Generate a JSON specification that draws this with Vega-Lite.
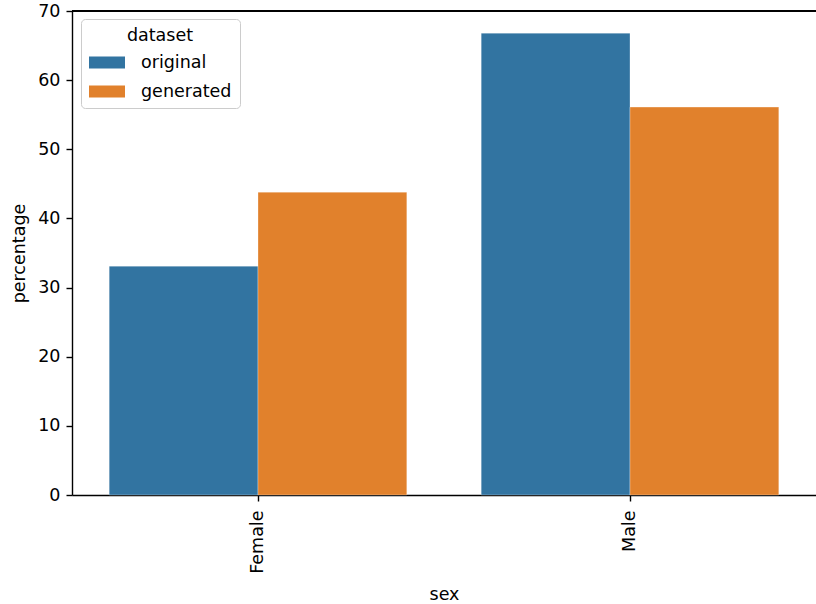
{
  "$schema": "https://vega.github.io/schema/vega-lite/v6.json",
  "width": 744,
  "height": 484,
  "autosize": {"type": "none"},
  "padding": {"left": 72, "top": 11, "right": 0, "bottom": 109},
  "background": "white",
  "config": {
    "view": {"stroke": null},
    "font": "DejaVu Sans",
    "axis": {
      "labelFont": "DejaVu Sans",
      "titleFont": "DejaVu Sans",
      "labelFontSize": 17.5,
      "titleFontSize": 17.5,
      "titleFontWeight": "normal",
      "labelColor": "#000",
      "titleColor": "#000",
      "domainColor": "#000",
      "domainWidth": 1.4,
      "tickColor": "#000",
      "tickWidth": 1.4,
      "tickSize": 6,
      "grid": false
    }
  },
  "data": {
    "values": [
      {"sex": "Female", "dataset": "original", "percentage": 33.1},
      {"sex": "Female", "dataset": "generated", "percentage": 43.8},
      {"sex": "Male", "dataset": "original", "percentage": 66.8},
      {"sex": "Male", "dataset": "generated", "percentage": 56.1}
    ]
  },
  "layer": [
    {
      "mark": {"type": "bar", "stroke": "white", "strokeWidth": 0.5, "strokeOpacity": 0.6},
      "encoding": {
        "x": {
          "field": "sex",
          "type": "nominal",
          "sort": ["Female", "Male"],
          "scale": {"paddingInner": 0.2, "paddingOuter": 0.1},
          "axis": {"labelAngle": -90, "labelPadding": 9, "titlePadding": 12, "title": "sex"}
        },
        "xOffset": {
          "field": "dataset",
          "type": "nominal",
          "sort": ["original", "generated"],
          "scale": {"paddingInner": 0, "paddingOuter": 0}
        },
        "y": {
          "field": "percentage",
          "type": "quantitative",
          "scale": {"domain": [0, 70], "nice": false},
          "axis": {"values": [0, 10, 20, 30, 40, 50, 60, 70], "labelPadding": 6, "titlePadding": 9, "title": "percentage"}
        },
        "color": {
          "field": "dataset",
          "type": "nominal",
          "sort": ["original", "generated"],
          "scale": {"domain": ["original", "generated"], "range": ["#3274a1", "#e1812c"]},
          "legend": {
            "orient": "none",
            "legendX": 9,
            "legendY": 8,
            "title": "dataset",
            "titleFont": "DejaVu Sans",
            "titleFontSize": 17.5,
            "titleFontWeight": "normal",
            "titleColor": "#000",
            "titleAnchor": "middle",
            "titlePadding": 0,
            "labelFont": "DejaVu Sans",
            "labelFontSize": 17.5,
            "labelColor": "#000",
            "labelOffset": 16,
            "symbolType": "M-1,-0.33H1V0.33H-1Z",
            "symbolSize": 1296,
            "symbolStrokeWidth": 0,
            "rowPadding": 2,
            "padding": 8,
            "strokeColor": "#cccccc",
            "fillColor": "white",
            "cornerRadius": 4
          }
        }
      }
    },
    {
      "mark": {"type": "rule", "color": "#000", "strokeWidth": 1.4},
      "encoding": {"y": {"datum": 70, "type": "quantitative"}}
    }
  ]
}
